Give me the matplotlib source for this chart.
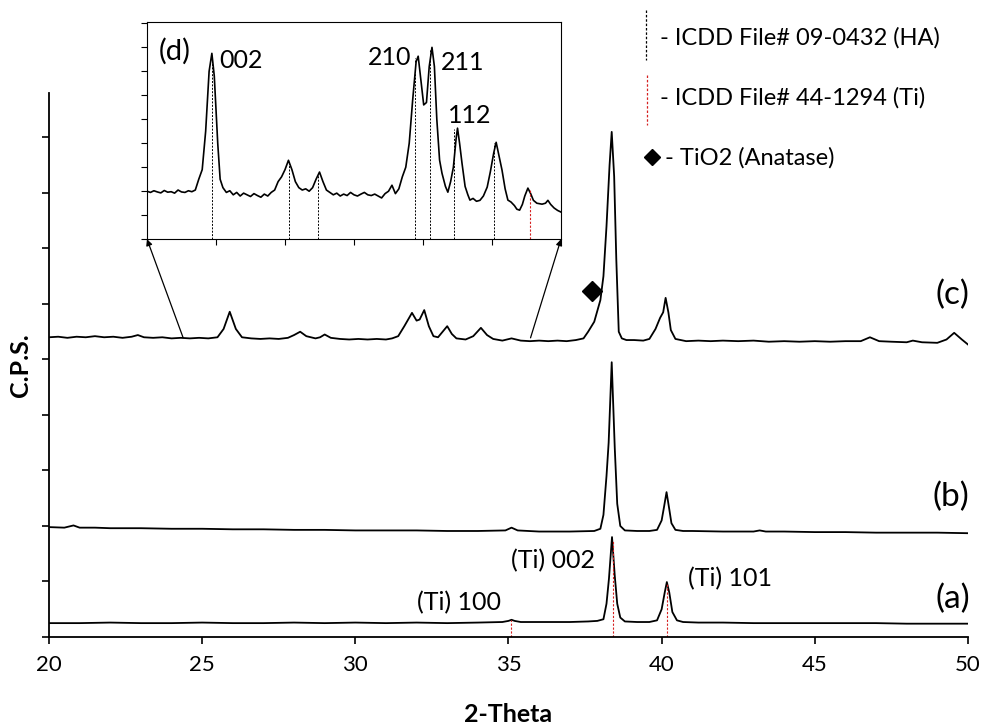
import matplotlib
matplotlib.use('Agg')
import matplotlib.pyplot as plt
from matplotlib.patches import ConnectionPatch
from matplotlib.lines import Line2D

plt.rcParams['font.family'] = ['Lato', 'DejaVu Sans']

# ---- data (2-theta, intensity in arbitrary units) ----
# (a) Ti substrate
a_x = [20.0, 21.0, 22.0, 23.0, 24.0, 25.0, 26.0, 27.0, 28.0, 29.0, 30.0, 31.0, 32.0, 33.0, 34.0,
       34.8, 35.0, 35.1, 35.2, 35.4, 36.0, 37.0, 37.6, 37.9, 38.1, 38.2, 38.28, 38.38, 38.47,
       38.55, 38.65, 38.8, 39.2, 39.6, 39.85, 40.0, 40.1, 40.17, 40.25, 40.35, 40.5, 40.7,
       41.2, 42.0, 43.0, 44.0, 45.0, 46.0, 47.0, 48.0, 49.0, 50.0]
a_y = [0.25, 0.25, 0.26, 0.25, 0.25, 0.26, 0.25, 0.25, 0.26, 0.25, 0.26, 0.25, 0.26, 0.25, 0.26,
       0.27, 0.29, 0.31, 0.29, 0.27, 0.27, 0.27, 0.28, 0.29, 0.32, 0.6, 1.05, 1.80, 1.1,
       0.6, 0.35, 0.28, 0.27, 0.27, 0.3, 0.5, 0.8, 0.99, 0.8, 0.45, 0.3, 0.27,
       0.26, 0.26, 0.25, 0.25, 0.25, 0.25, 0.25, 0.24, 0.24, 0.24]

# (b)
b_x = [20.0, 20.5, 20.8, 21.0, 21.5, 22.0, 23.0, 24.0, 25.0, 26.0, 27.0, 28.0, 29.0, 30.0, 31.0,
       32.0, 33.0, 34.0, 34.9, 35.1, 35.3, 36.0, 37.0, 37.8, 38.0, 38.1, 38.2, 38.27, 38.37,
       38.47, 38.55, 38.65, 38.8, 39.2, 39.6, 39.85, 40.0, 40.08, 40.16, 40.25, 40.32, 40.45,
       40.7, 41.0, 42.0, 43.0, 43.2, 43.4, 44.0, 45.0, 46.0, 47.0, 48.0, 49.0, 50.0]
b_y = [1.98, 1.97, 2.01, 1.97, 1.97, 1.96, 1.96, 1.95, 1.95, 1.94, 1.94, 1.93, 1.93, 1.92, 1.92,
       1.92, 1.91, 1.91, 1.92, 1.97, 1.92, 1.90, 1.90, 1.91, 1.95, 2.2, 2.9, 3.5, 4.95,
       3.4, 2.4, 2.0, 1.92, 1.91, 1.91, 1.93, 2.1, 2.35, 2.61, 2.3, 2.05, 1.93,
       1.91, 1.91, 1.90, 1.90, 1.92, 1.90, 1.90, 1.89, 1.89, 1.88, 1.88, 1.88, 1.87]

# (c) coated sample
c_x = [20.0, 20.3, 20.6, 20.9, 21.2, 21.5, 21.8, 22.1, 22.4, 22.7, 22.9, 23.1, 23.4, 23.7, 24.0,
       24.3, 24.6, 24.9, 25.2, 25.5, 25.7, 25.9, 26.1, 26.3, 26.6, 26.9, 27.2, 27.5, 27.8, 28.0,
       28.2, 28.4, 28.7, 28.85, 29.0, 29.2, 29.5, 29.8, 30.1, 30.4, 30.7, 31.0, 31.2, 31.4, 31.6,
       31.85, 32.0, 32.1, 32.25, 32.4, 32.55, 32.7, 32.85, 33.0, 33.15, 33.3, 33.6, 33.85, 34.1,
       34.3, 34.5, 34.8, 35.1, 35.4, 35.7, 36.0, 36.3, 36.6, 36.9, 37.2, 37.45, 37.6, 37.8, 38.0,
       38.1, 38.2, 38.3, 38.37, 38.45, 38.52, 38.6, 38.7, 38.85, 39.1, 39.4, 39.6, 39.8, 39.95,
       40.05, 40.13, 40.22, 40.3, 40.45, 40.8, 41.2, 41.6, 42.0, 42.5, 43.0, 43.5, 44.0, 44.5,
       45.0, 45.5, 46.0, 46.5, 46.8, 47.1, 47.5, 48.0, 48.2, 48.5, 49.0, 49.3, 49.55, 49.8, 50.0]
c_y = [5.40, 5.41, 5.39, 5.41, 5.40, 5.42, 5.40, 5.41, 5.39, 5.41, 5.44, 5.40, 5.39, 5.40, 5.38,
       5.39, 5.38, 5.39, 5.38, 5.40, 5.55, 5.86, 5.55, 5.40, 5.38, 5.37, 5.38, 5.37, 5.39, 5.44,
       5.50, 5.42, 5.38, 5.40, 5.45, 5.39, 5.37, 5.36, 5.37, 5.36, 5.37, 5.36, 5.38, 5.42, 5.60,
       5.84, 5.70, 5.72, 5.89, 5.60, 5.42, 5.40, 5.50, 5.60, 5.46, 5.38, 5.36, 5.42, 5.57,
       5.44, 5.37, 5.34, 5.38, 5.34, 5.33, 5.34, 5.33, 5.34, 5.33, 5.35, 5.38, 5.50, 5.68, 6.07,
       6.5, 7.4, 8.5, 9.10, 8.3, 6.8, 5.5, 5.38, 5.35, 5.35, 5.34, 5.37, 5.55, 5.75,
       5.85, 6.11, 5.85, 5.53, 5.37, 5.33, 5.34, 5.33, 5.34, 5.33, 5.34, 5.32, 5.33, 5.32,
       5.33, 5.32, 5.33, 5.33, 5.40, 5.33, 5.32, 5.31, 5.34, 5.31, 5.30, 5.36, 5.48, 5.36, 5.27]

# (d) zoomed region of (c), 24-36 deg
d_x = [24.0, 24.1, 24.2, 24.3, 24.4, 24.5, 24.6, 24.7, 24.8, 24.9, 25.0, 25.1, 25.2, 25.3, 25.4,
       25.5, 25.6, 25.7, 25.8, 25.88, 25.95, 26.05, 26.12, 26.2, 26.3, 26.4, 26.5, 26.6, 26.7,
       26.8, 26.9, 27.0, 27.1, 27.2, 27.3, 27.4, 27.5, 27.6, 27.7, 27.8, 27.9, 28.0, 28.1, 28.2,
       28.3, 28.4, 28.5, 28.6, 28.7, 28.8, 28.9, 29.0, 29.1, 29.2, 29.3, 29.4, 29.5, 29.6, 29.7,
       29.8, 29.9, 30.0, 30.1, 30.2, 30.3, 30.4, 30.5, 30.6, 30.7, 30.8, 30.9, 31.0, 31.1, 31.2,
       31.3, 31.4, 31.5, 31.6, 31.7, 31.8, 31.86, 31.95, 32.02, 32.1, 32.18, 32.26, 32.33, 32.4,
       32.48, 32.55, 32.65, 32.72, 32.8, 32.88, 32.96, 33.0, 33.06, 33.13, 33.22, 33.3, 33.36,
       33.45, 33.55, 33.65, 33.75, 33.86, 33.95, 34.05, 34.12, 34.2, 34.29, 34.38, 34.46, 34.55,
       34.65, 34.72, 34.8, 34.88, 34.95, 35.04, 35.12, 35.2, 35.3, 35.38, 35.45, 35.55, 35.62,
       35.7, 35.8, 35.9, 36.0]
d_y = [2.00, 1.95, 2.02, 1.97, 1.93, 2.03, 1.96, 1.98, 1.92, 2.05, 1.97, 1.95, 2.02, 1.98, 2.05,
       2.5, 2.9, 4.5, 7.0, 7.75, 6.8, 4.0, 2.5, 2.15, 1.95, 2.02, 1.85, 1.95, 1.80,
       1.92, 1.85, 1.78, 1.90, 1.82, 1.75, 1.88, 1.80, 1.95, 2.05, 2.4, 2.6, 2.9, 3.29, 2.9,
       2.4, 2.15, 2.05, 2.1, 2.0, 2.15, 2.5, 2.8, 2.4, 2.05, 1.95, 1.85, 1.92, 1.80, 1.88,
       1.82, 1.95, 1.85, 1.80, 1.88, 1.95, 1.85, 1.82, 1.88, 1.80, 1.72, 1.90, 2.0, 2.25, 1.9,
       2.1, 2.6, 3.0, 4.0, 5.8, 7.4, 7.63, 6.5, 5.6, 5.7, 7.2, 8.0, 7.2, 5.0,
       3.3, 2.75, 2.2, 1.96, 2.4, 3.0, 4.2, 4.63, 4.0, 3.17, 2.2, 1.85, 1.63,
       1.70, 1.58, 1.62, 1.80, 2.17, 2.8, 3.6, 4.04, 3.5, 2.88, 2.1, 1.63, 1.55,
       1.40, 1.25, 1.21, 1.45, 1.8, 2.13, 1.9, 1.62, 1.50, 1.48, 1.46, 1.50, 1.62,
       1.45, 1.30, 1.20, 1.13]

# reference lines
ti_pos = [35.09, 38.42, 40.17]          # ICDD 44-1294 (Ti)
ti_top = [0.31, 1.75, 0.97]
ti_labels = ['(Ti) 100', '(Ti) 002', '(Ti) 101']
ha_pos = [25.88, 28.13, 28.97, 31.77, 32.20, 32.90, 34.05]   # ICDD 09-0432 (HA)
ha_top = [7.7, 3.25, 2.75, 7.55, 7.95, 4.6, 4.0]
ha_labels = ['002', '210', '211', '112']
inset_ti_pos = [35.09]
inset_ti_top = [2.05]
anatase_x, anatase_y = 37.74, 6.23


def px(x, y):
    # pixel position in the 982x727 picture -> figure fraction
    return x / 982, 1 - y / 727


fig = plt.figure(figsize=(9.82, 7.27), dpi=100)
ax = fig.add_axes([0.0499, 0.1238, 0.9358, 0.7482])

ax.plot(a_x, a_y, color='black', lw=1.3)
ax.plot(b_x, b_y, color='black', lw=1.3)
ax.plot(c_x, c_y, color='black', lw=1.3)
ax.vlines(ti_pos, 0, ti_top, colors='#d62020', linestyles=(0, (2, 1.5)), lw=0.8)
ax.plot(anatase_x, anatase_y, 'D', color='black', markersize=10)

ax.set_xlim(20, 50)
ax.set_ylim(0, 9.8)
ax.set_xticks([20, 25, 30, 35, 40, 45, 50])
ax.set_yticks(range(0, 10))
ax.set_yticklabels([])
ax.tick_params(axis='both', direction='out', length=5, width=1.2, labelsize=16)
ax.tick_params(axis='x', pad=8)
for s in ['top', 'right']:
    ax.spines[s].set_visible(False)
for s in ['left', 'bottom']:
    ax.spines[s].set_linewidth(1.3)

ax.set_xlabel('2-Theta', fontsize=18, fontweight='bold', labelpad=20)
ax.set_ylabel('C.P.S.', fontsize=18, fontweight='bold', labelpad=4)

# curve labels
ax.text(49.48, 6.16, '(c)', fontsize=24, ha='center', va='center')
ax.text(49.44, 2.52, '(b)', fontsize=24, ha='center', va='center')
ax.text(49.50, 0.68, '(a)', fontsize=24, ha='center', va='center')
ax.text(33.37, 0.61, ti_labels[0], fontsize=18, ha='center', va='center')
ax.text(36.44, 1.37, ti_labels[1], fontsize=18, ha='center', va='center')
ax.text(42.22, 1.06, ti_labels[2], fontsize=18, ha='center', va='center')

# inset (d)
axin = fig.add_axes([0.1497, 0.671, 0.4216, 0.2985])
axin.plot(d_x, d_y, color='black', lw=1.2)
axin.vlines(ha_pos, 0, ha_top, colors='black', linestyles=(0, (2, 1.5)), lw=0.7)
axin.vlines(inset_ti_pos, 0, inset_ti_top, colors='#d62020', linestyles=(0, (2, 1.5)), lw=0.8)
axin.set_xlim(24, 36)
axin.set_ylim(0, 9.05)
axin.set_xticks([24, 26, 28, 30, 32, 34, 36])
axin.set_yticks(range(0, 10))
axin.set_xticklabels([])
axin.set_yticklabels([])
axin.tick_params(direction='out', length=4, width=0.8)
axin.text(24.81, 7.83, '(d)', fontsize=21, ha='center', va='center')
axin.text(26.72, 7.46, ha_labels[0], fontsize=18, ha='center', va='center')
axin.text(31.04, 7.58, ha_labels[1], fontsize=18, ha='center', va='center')
axin.text(33.16, 7.38, ha_labels[2], fontsize=18, ha='center', va='center')
axin.text(33.36, 5.17, ha_labels[3], fontsize=18, ha='center', va='center')

# arrows from the main curve to the inset corners
for xa, corner in [(24.38, (0, 0)), (35.72, (1, 0))]:
    con = ConnectionPatch(xyA=(xa, 5.39), coordsA=ax.transData,
                          xyB=corner, coordsB=axin.transAxes,
                          arrowstyle='-|>', mutation_scale=9, lw=0.9, color='black')
    fig.add_artist(con)

# key in the top right corner
fig.add_artist(Line2D([px(646, 10)[0]] * 2, [px(646, 10)[1], px(646, 60)[1]],
                      color='black', lw=0.9, linestyle=(0, (2, 1.5))))
fig.add_artist(Line2D([px(647, 75)[0]] * 2, [px(647, 75)[1], px(647, 125)[1]],
                      color='#d62020', lw=0.9, linestyle=(0, (2, 1.5))))
fig.add_artist(Line2D([px(652, 157)[0]], [px(652, 157)[1]], marker='D',
                      color='black', markersize=8))
fig.text(*px(660, 38), '- ICDD File# 09-0432 (HA)', fontsize=17, va='center')
fig.text(*px(660, 98), '- ICDD File# 44-1294 (Ti)', fontsize=17, va='center')
fig.text(*px(665, 158), '- TiO2 (Anatase)', fontsize=17, va='center')

fig.savefig('out.png', dpi=100)
